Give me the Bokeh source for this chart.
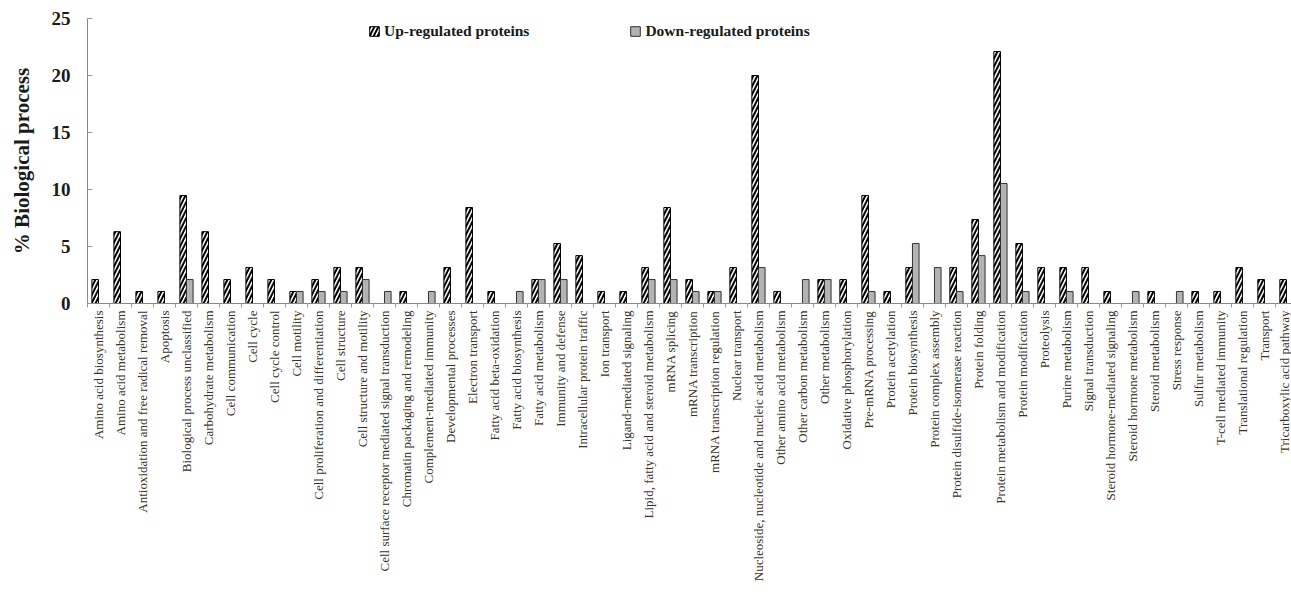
import math
from bokeh.plotting import figure
from bokeh.models import ColumnDataSource, FixedTicker, Legend, LegendItem, Range1d
from bokeh.transform import dodge
from bokeh.embed import file_html
from bokeh.resources import INLINE

categories = [
    "Amino acid biosynthesis", "Amino acid metabolism", "Antioxidation and free radical removal",
    "Apoptosis", "Biological process unclassified", "Carbohydrate metabolism", "Cell communication",
    "Cell cycle", "Cell cycle control", "Cell motility", "Cell proliferation and differentiation",
    "Cell structure", "Cell structure and motility", "Cell surface receptor mediated signal transduction",
    "Chromatin packaging and remodeling", "Complement-mediated immunity", "Developmental processes",
    "Electron transport", "Fatty acid beta-oxidation", "Fatty acid biosynthesis", "Fatty acid metabolism",
    "Immunity and defense", "Intracellular protein traffic", "Ion transport", "Ligand-mediated signaling",
    "Lipid, fatty acid and steroid metabolism", "mRNA splicing", "mRNA transcription",
    "mRNA transcription regulation", "Nuclear transport", "Nucleoside, nucleotide and nucleic acid metabolism",
    "Other amino acid metabolism", "Other carbon metabolism", "Other metabolism", "Oxidative phosphorylation",
    "Pre-mRNA processing", "Protein acetylation", "Protein biosynthesis", "Protein complex assembly",
    "Protein disulfide-isomerase reaction", "Protein folding", "Protein metabolism and modification",
    "Protein modification", "Proteolysis", "Purine metabolism", "Signal transduction",
    "Steroid hormone-mediated signaling", "Steroid hormone metabolism", "Steroid metabolism",
    "Stress response", "Sulfur metabolism", "T-cell mediated immunity", "Translational regulation",
    "Transport", "Tricarboxylic acid pathway",
]

up_regulated = [
    2.1, 6.3, 1.05, 1.05, 9.47, 6.3, 2.1, 3.15, 2.1, 1.05,
    2.1, 3.15, 3.15, 0, 1.05, 0, 3.15, 8.42, 1.05, 0,
    2.1, 5.26, 4.2, 1.05, 1.05, 3.15, 8.42, 2.1, 1.05, 3.15,
    20.0, 1.05, 0, 2.1, 2.1, 9.47, 1.05, 3.15, 0, 3.15,
    7.37, 22.1, 5.26, 3.15, 3.15, 3.15, 1.05, 0, 1.05, 0,
    1.05, 1.05, 3.15, 2.1, 2.1,
]

down_regulated = [
    0, 0, 0, 0, 2.1, 0, 0, 0, 0, 1.05,
    1.05, 1.05, 2.1, 1.05, 0, 1.05, 0, 0, 0, 1.05,
    2.1, 2.1, 0, 0, 0, 2.1, 2.1, 1.05, 1.05, 0,
    3.15, 0, 2.1, 2.1, 0, 1.05, 0, 5.26, 3.15, 1.05,
    4.2, 10.53, 1.05, 0, 1.05, 0, 0, 1.05, 0, 1.05,
    0, 0, 0, 0, 0,
]

y_ticks = [0, 5, 10, 15, 20, 25]

xs = list(range(1, len(categories) + 1))
up_src = ColumnDataSource(dict(x=[x for x, v in zip(xs, up_regulated) if v > 0],
                               top=[v for v in up_regulated if v > 0]))
down_src = ColumnDataSource(dict(x=[x for x, v in zip(xs, down_regulated) if v > 0],
                                 top=[v for v in down_regulated if v > 0]))

p = figure(width=1291, height=594,
           x_range=Range1d(0.5, 55.23), y_range=Range1d(0, 25),
           output_backend="svg", toolbar_location=None,
           min_border_left=87, min_border_right=0, min_border_top=18, min_border_bottom=291)

p.outline_line_color = None
p.xgrid.visible = False
p.ygrid.visible = False
p.background_fill_color = "white"

r_up = p.vbar(x=dodge("x", -0.15), top="top", width=0.3, source=up_src,
              fill_color="white", line_color="black", line_width=1,
              hatch_pattern="/", hatch_color="black", hatch_weight=2, hatch_scale=8)
r_down = p.vbar(x=dodge("x", 0.15), top="top", width=0.3, source=down_src,
                fill_color="#b3b3b3", line_color="#333333", line_width=1)

serif = "Liberation Serif"

# x axis
xa = p.xaxis[0]
xa.ticker = FixedTicker(ticks=xs, minor_ticks=[i + 0.5 for i in range(0, 56)])
xa.major_label_overrides = {x: c for x, c in zip(xs, categories)}
xa.major_label_orientation = math.pi / 2
xa.major_label_text_font = serif
xa.major_label_text_font_size = "13px"
xa.major_label_text_color = "#333333"
xa.major_label_standoff = 3
xa.major_tick_out = 0
xa.major_tick_in = 0
xa.minor_tick_out = 4
xa.minor_tick_in = 0
xa.minor_tick_line_color = "#999999"
xa.axis_line_color = "#888888"

# y axis
ya = p.yaxis[0]
ya.ticker = FixedTicker(ticks=y_ticks)
ya.minor_tick_line_color = None
ya.major_tick_in = 5
ya.major_tick_out = 0
ya.major_tick_line_color = "#999999"
ya.axis_line_color = "#888888"
ya.major_label_text_font = serif
ya.major_label_text_font_style = "bold"
ya.major_label_text_font_size = "19px"
ya.major_label_text_color = "#1a1a1a"
ya.major_label_standoff = 17
ya.axis_label = "% Biological process"
ya.axis_label_text_font = serif
ya.axis_label_text_font_style = "bold"
ya.axis_label_text_font_size = "21px"
ya.axis_label_text_color = "#1a1a1a"
ya.axis_label_standoff = 15

legend = Legend(items=[LegendItem(label="Up-regulated proteins", renderers=[r_up]),
                       LegendItem(label="Down-regulated proteins", renderers=[r_down])],
                orientation="horizontal", location=(281, 263),
                border_line_alpha=0, background_fill_alpha=0,
                spacing=100, padding=0, margin=0,
                glyph_width=12, glyph_height=12, label_standoff=4, label_height=18,
                label_text_font=serif, label_text_font_style="bold",
                label_text_font_size="15.5px", label_text_color="#1a1a1a")
p.add_layout(legend)

open("out.html", "w").write(file_html(p, INLINE))
